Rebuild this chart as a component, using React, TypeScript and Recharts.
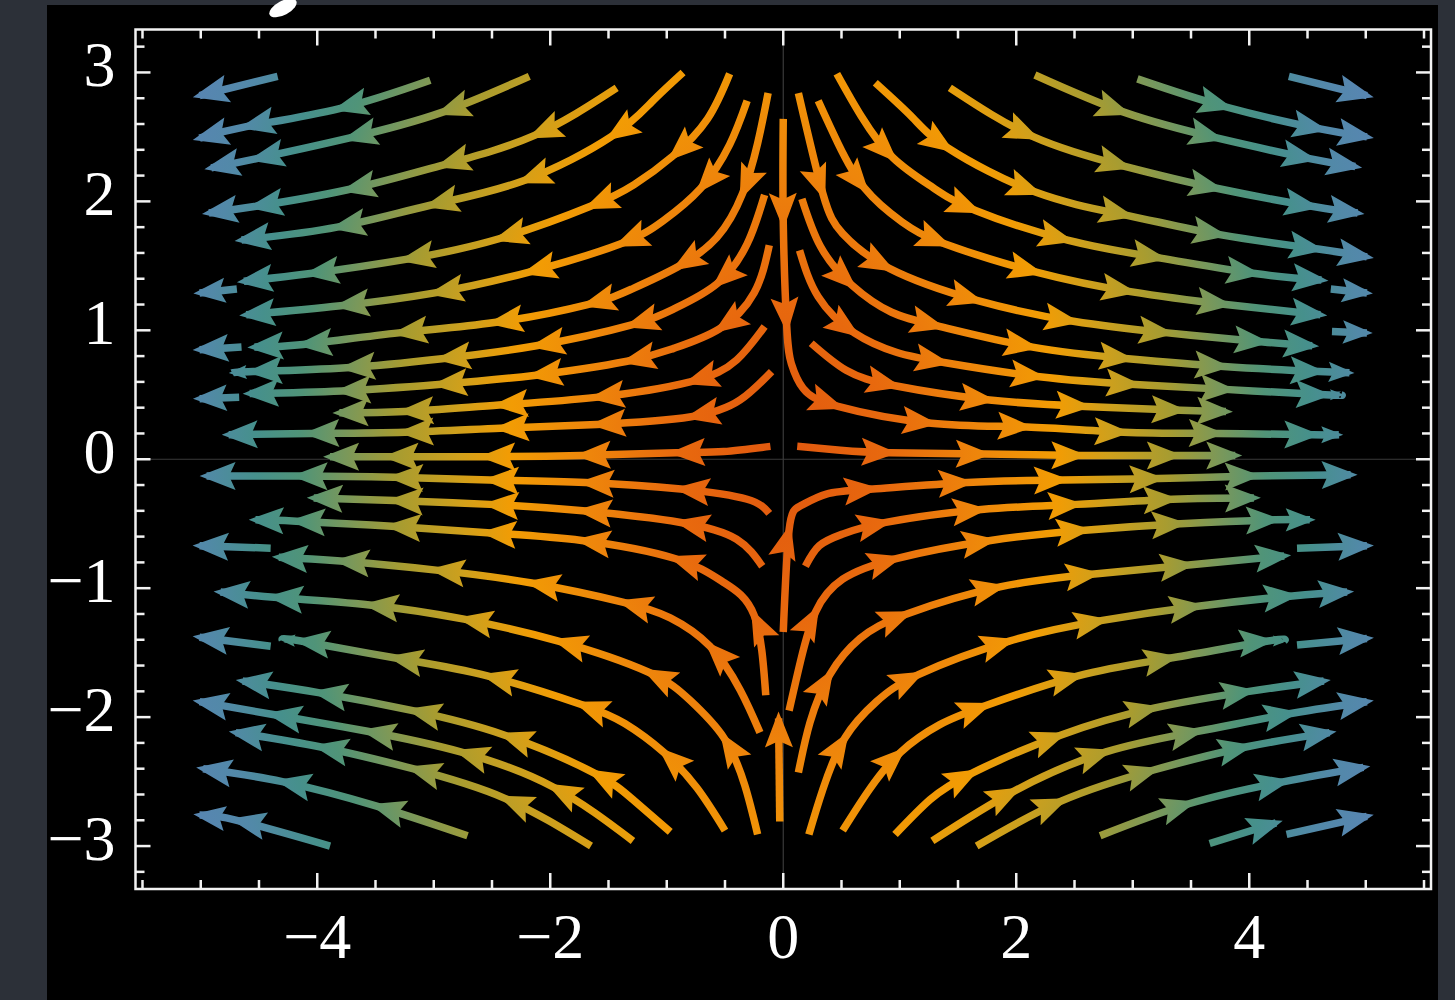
import React from 'react';
import { LineChart, Line, XAxis, YAxis, CartesianGrid, ReferenceArea } from 'recharts';

// a stream point: [x, y] is an arrow tip, [x, y, 0] is a plain point on the curve
type Pt = number[];

const X_DOMAIN = [-5.56, 5.56];
const Y_DOMAIN = [-3.333, 3.333];

const xTicks = [-5.5, -5, -4.5, -4, -3.5, -3, -2.5, -2, -1.5, -1, -0.5, 0, 0.5, 1, 1.5, 2, 2.5, 3, 3.5, 4, 4.5, 5, 5.5];
const xLabels = [-4, -2, 0, 2, 4];
const yTicks = [-3.2, -3, -2.8, -2.6, -2.4, -2.2, -2, -1.8, -1.6, -1.4, -1.2, -1, -0.8, -0.6, -0.4, -0.2, 0,
  0.2, 0.4, 0.6, 0.8, 1, 1.2, 1.4, 1.6, 1.8, 2, 2.2, 2.4, 2.6, 2.8, 3, 3.2];
const yLabels = [-3, -2, -1, 0, 1, 2, 3];

const topLeftStreams: Pt[][] = [
  [[-4.34, 2.97], [-5.01, 2.82]],
  [[-3.03, 2.94], [-3.81, 2.72], [-4.61, 2.58], [-5.01, 2.49]],
  [[-2.18, 2.97], [-2.93, 2.69], [-3.73, 2.49], [-4.53, 2.33], [-4.91, 2.26]],
  [[-1.43, 2.88], [-2.14, 2.51], [-2.93, 2.28], [-3.74, 2.09], [-4.54, 1.96], [-4.93, 1.91]],
  [[-0.86, 3.0], [-1.13, 2.77, 0], [-1.48, 2.5], [-2.23, 2.16], [-3.03, 1.97], [-3.83, 1.8], [-4.65, 1.7]],
  [[-0.46, 2.99], [-0.65, 2.64, 0], [-0.95, 2.35], [-1.28, 2.13, 0], [-1.66, 1.96], [-2.44, 1.71], [-3.24, 1.55], [-4.06, 1.44], [-4.63, 1.38]],
  [[-4.69, 1.32], [-5.01, 1.29]],
  [[-0.31, 2.78], [-0.46, 2.44, 0], [-0.71, 2.1], [-1.03, 1.85, 0], [-1.4, 1.67], [-2.19, 1.45], [-2.99, 1.29], [-3.8, 1.19], [-4.61, 1.12]],
  [[-0.13, 2.84], [-0.22, 2.45, 0], [-0.35, 2.06], [-0.57, 1.72, 0], [-0.91, 1.49], [-1.3, 1.32, 0], [-1.68, 1.2], [-2.48, 1.06], [-3.3, 0.98], [-4.12, 0.89], [-4.54, 0.87]],
  [[-4.65, 0.87], [-5.01, 0.85]],
  [[-0.16, 2.05], [-0.31, 1.67, 0], [-0.57, 1.36], [-0.93, 1.17, 0], [-1.31, 1.04], [-2.12, 0.88], [-2.93, 0.78], [-3.75, 0.71], [-4.55, 0.68], [-4.73, 0.67]],
  [[-0.12, 1.66], [-0.25, 1.29, 0], [-0.55, 1.01], [-0.94, 0.86, 0], [-1.34, 0.76], [-2.14, 0.65], [-2.96, 0.58], [-3.79, 0.53], [-4.58, 0.51]],
  [[-4.67, 0.48], [-5.01, 0.47]],
  [[-0.16, 1.03], [-0.4, 0.77, 0], [-0.8, 0.6], [-1.61, 0.48], [-2.44, 0.42], [-3.25, 0.37], [-3.81, 0.36]],
  [[-0.1, 0.68], [-0.37, 0.46, 0], [-0.79, 0.33], [-1.6, 0.27], [-2.43, 0.24], [-3.25, 0.21], [-4.06, 0.2], [-4.76, 0.19]],
  [[-0.11, 0.1], [-0.51, 0.06, 0], [-0.92, 0.05], [-1.73, 0.03], [-2.55, 0.02], [-3.38, 0.02], [-3.89, 0.02]],
];

const topRightStreams: Pt[][] = [
  [[0, 2.64], [0, 1.84], [0.03, 1.03], [0.07, 0.74, 0], [0.17, 0.55, 0], [0.47, 0.41], [1.27, 0.28], [2.09, 0.25], [2.92, 0.21], [3.73, 0.2], [4.55, 0.19], [4.77, 0.19]],
  [[4.34, 2.97], [5.01, 2.82]],
  [[3.04, 2.95], [3.81, 2.73], [4.62, 2.56], [5.01, 2.5]],
  [[2.16, 2.98], [2.93, 2.69], [3.73, 2.49], [4.53, 2.33], [4.91, 2.27]],
  [[1.43, 2.88], [2.15, 2.5], [2.94, 2.27], [3.73, 2.1], [4.55, 1.96], [4.93, 1.91]],
  [[0.79, 2.92], [1.11, 2.65, 0], [1.42, 2.41], [2.17, 2.07], [2.96, 1.89], [3.76, 1.74], [4.59, 1.63], [5.01, 1.57]],
  [[0.46, 2.99], [0.67, 2.66, 0], [0.94, 2.34], [1.28, 2.11, 0], [1.65, 1.93], [2.44, 1.7], [3.24, 1.56], [4.05, 1.44], [4.62, 1.39]],
  [[4.7, 1.32], [5.01, 1.29]],
  [[0.3, 2.78], [0.47, 2.45, 0], [0.7, 2.1], [1.02, 1.84, 0], [1.39, 1.67], [2.18, 1.45], [2.98, 1.3], [3.8, 1.2], [4.61, 1.12]],
  [[0.13, 2.84], [0.34, 2.06], [0.51, 1.75, 0], [0.91, 1.48], [1.67, 1.23], [2.49, 1.07], [3.3, 0.98], [4.12, 0.91], [4.54, 0.88]],
  [[4.71, 0.99], [5.01, 0.98]],
  [[0.16, 2.02], [0.32, 1.65, 0], [0.59, 1.35], [0.93, 1.14, 0], [1.34, 1.03], [2.14, 0.87], [2.96, 0.78], [3.78, 0.72], [4.6, 0.68], [4.86, 0.67]],
  [[0.14, 1.62], [0.3, 1.26, 0], [0.61, 0.98], [0.97, 0.83, 0], [1.38, 0.75], [2.2, 0.64], [3.02, 0.58], [3.83, 0.54], [4.65, 0.5], [4.79, 0.5]],
  [[0.24, 0.9], [0.54, 0.69, 0], [0.96, 0.57], [1.77, 0.46], [2.59, 0.41], [3.41, 0.38], [3.8, 0.37]],
  [[0.12, 0.1], [0.49, 0.07, 0], [0.92, 0.05], [1.73, 0.04], [2.55, 0.03], [3.37, 0.03], [3.88, 0.03]],
];

const bottomLeftStreams: Pt[][] = [
  [[-0.12, -0.42], [-0.31, -0.31, 0], [-0.88, -0.23], [-1.7, -0.18], [-2.52, -0.16], [-3.34, -0.14], [-4.16, -0.13], [-4.95, -0.13]],
  [[-0.18, -0.83], [-0.4, -0.62, 0], [-0.88, -0.49], [-1.72, -0.4], [-2.52, -0.35], [-3.34, -0.32], [-4.03, -0.3]],
  [[-0.15, -1.83], [-0.25, -1.21], [-0.52, -0.95, 0], [-0.93, -0.77], [-1.73, -0.63], [-2.54, -0.57], [-3.36, -0.52], [-4.18, -0.48], [-4.53, -0.47]],
  [[-4.4, -0.69], [-5.01, -0.67]],
  [[-0.2, -2.12], [-0.37, -1.79, 0], [-0.63, -1.45], [-0.97, -1.23, 0], [-1.37, -1.11], [-2.16, -0.96], [-2.98, -0.86], [-3.8, -0.79], [-4.33, -0.76]],
  [[-0.22, -2.91], [-0.33, -2.53, 0], [-0.51, -2.16], [-0.8, -1.87, 0], [-1.16, -1.65], [-1.93, -1.41], [-2.74, -1.24], [-3.55, -1.13], [-4.37, -1.07], [-4.83, -1.03]],
  [[-0.5, -2.88], [-0.74, -2.55, 0], [-1.03, -2.27], [-1.36, -2.05, 0], [-1.74, -1.9], [-2.54, -1.68], [-3.34, -1.54], [-4.14, -1.41], [-4.3, -1.4]],
  [[-4.4, -1.45], [-5.01, -1.38]],
  [[-0.97, -2.89], [-1.29, -2.64, 0], [-1.63, -2.43], [-2.39, -2.14], [-3.18, -1.95], [-3.99, -1.81], [-4.64, -1.72]],
  [[-1.29, -2.96], [-1.98, -2.54], [-2.77, -2.27], [-3.57, -2.11], [-4.38, -1.98], [-5.01, -1.88]],
  [[-1.65, -3.0], [-2.39, -2.63], [-3.18, -2.4], [-3.98, -2.23], [-4.7, -2.12]],
  [[-2.71, -2.92], [-3.49, -2.69], [-4.3, -2.5], [-4.98, -2.4]],
  [[-3.89, -3.0], [-4.69, -2.8], [-5.01, -2.76]],
  [[-0.03, -2.81], [-0.04, -2.01]],
];

const bottomRightStreams: Pt[][] = [
  [[0, -1.34], [0.05, -0.55], [0.15, -0.36, 0], [0.37, -0.27, 0], [0.77, -0.23], [1.58, -0.18], [2.4, -0.16], [3.22, -0.15], [4.04, -0.13], [4.87, -0.12]],
  [[0.19, -0.83], [0.31, -0.67, 0], [0.51, -0.58, 0], [0.88, -0.49], [1.7, -0.39], [2.52, -0.35], [3.34, -0.31], [4.04, -0.3]],
  [[0.05, -1.95], [0.15, -1.56, 0], [0.28, -1.18], [0.51, -0.93, 0], [0.97, -0.77], [1.78, -0.63], [2.59, -0.55], [3.41, -0.5], [4.22, -0.47], [4.52, -0.47]],
  [[0.13, -2.43], [0.23, -2.04, 0], [0.4, -1.67], [0.66, -1.39, 0], [1.06, -1.2], [1.86, -0.99], [2.67, -0.89], [3.48, -0.82], [4.3, -0.75]],
  [[4.41, -0.69], [5.01, -0.67]],
  [[0.22, -2.91], [0.34, -2.56, 0], [0.53, -2.16], [0.8, -1.88, 0], [1.16, -1.67], [1.94, -1.41], [2.74, -1.25], [3.56, -1.14], [4.37, -1.06], [4.84, -1.03]],
  [[0.51, -2.88], [0.74, -2.56, 0], [1.01, -2.27], [1.34, -2.06, 0], [1.74, -1.91], [2.53, -1.68], [3.34, -1.54], [4.16, -1.41], [4.3, -1.41]],
  [[4.41, -1.44], [5.01, -1.39]],
  [[0.96, -2.91], [1.26, -2.64, 0], [1.63, -2.43], [2.38, -2.14], [3.18, -1.93], [4.0, -1.8], [4.64, -1.72]],
  [[1.28, -2.96], [1.99, -2.57], [2.77, -2.27], [3.56, -2.11], [4.37, -1.97], [5.01, -1.88]],
  [[1.66, -3.0], [2.39, -2.65], [3.18, -2.41], [3.98, -2.23], [4.69, -2.12]],
  [[2.72, -2.92], [3.49, -2.67], [4.3, -2.5], [4.98, -2.39]],
  [[3.66, -2.98], [4.23, -2.82]],
  [[4.32, -2.91], [5.01, -2.77]],
];

const streams = [...topLeftStreams, ...topRightStreams, ...bottomLeftStreams, ...bottomRightStreams];

// colour by distance from the saddle (orange in the middle, blue at the edges)
const speedStops: [number, string][] = [
  [0, '#e0570f'], [0.16, '#e8690e'], [0.3, '#ee860b'], [0.42, '#f29c04'], [0.5, '#cfa01c'],
  [0.59, '#a89c30'], [0.67, '#7a985a'], [0.74, '#509478'], [0.81, '#46908c'], [0.89, '#5289a8'], [1, '#5a84b6'],
];

const W = 1455;
const H = 1000;
const PLOT = { top: 29.5, right: 24, bottom: 111, left: 135.5 };
const PW = W - PLOT.left - PLOT.right;
const PH = H - PLOT.top - PLOT.bottom;
const KX = PW / (X_DOMAIN[1] - X_DOMAIN[0]);
const KY = PH / (Y_DOMAIN[1] - Y_DOMAIN[0]);
const OX = PLOT.left - X_DOMAIN[0] * KX;
const OY = PLOT.top + Y_DOMAIN[1] * KY;

const FRAME = '#f2f2f2';
const FONT = 'Liberation Serif, serif';

const fmt = (v: number) => (v < 0 ? '\u2212' + Math.abs(v) : String(v));

const XTick = ({ x, y, payload }: any) => {
  const major = xLabels.includes(payload.value);
  const len = major ? 16 : 9;
  return (
    <g>
      <line x1={x} x2={x} y1={y} y2={y - len} stroke={FRAME} strokeWidth={2.5} />
      <line x1={x} x2={x} y1={y - PH} y2={y - PH + len} stroke={FRAME} strokeWidth={2.5} />
      {major && (
        <text x={x} y={y + 69} textAnchor="middle" fill="#fff" fontSize={64} fontFamily={FONT}>
          {fmt(payload.value)}
        </text>
      )}
    </g>
  );
};

const YTick = ({ x, y, payload }: any) => {
  const major = yLabels.includes(payload.value);
  const len = major ? 15 : 9;
  return (
    <g>
      <line x1={x} x2={x + len} y1={y} y2={y} stroke={FRAME} strokeWidth={2.5} />
      <line x1={x + PW} x2={x + PW - len} y1={y} y2={y} stroke={FRAME} strokeWidth={2.5} />
      {major && (
        <text x={x - 20} y={y + 14} textAnchor="end" fill="#fff" fontSize={64} fontFamily={FONT}>
          {fmt(payload.value)}
        </text>
      )}
    </g>
  );
};

const makeArrow = (line: Pt[]) => (props: any) => {
  const { index, cx, cy } = props;
  const key = `a${index}`;
  if (!index || line[index].length > 2 || cx == null || cy == null) return <g key={key} />;
  const pts: number[][] = props.points && props.points.length === line.length
    ? props.points.map((p: any) => [p.x, p.y])
    : line.map((p) => [OX + p[0] * KX, OY - p[1] * KY]);
  const [px, py] = pts[index - 1];
  let ux = cx - px;
  let uy = cy - py;
  const d1 = Math.hypot(ux, uy) || 1;
  ux /= d1;
  uy /= d1;
  if (index + 1 < pts.length) {
    const [nx, ny] = pts[index + 1];
    const d2 = Math.hypot(nx - cx, ny - cy) || 1;
    ux += (nx - cx) / d2;
    uy += (ny - cy) / d2;
    const n = Math.hypot(ux, uy) || 1;
    ux /= n;
    uy /= n;
  }
  let k = index - 1;
  while (k > 0 && line[k].length > 2) k--;
  const chord = Math.hypot(cx - pts[k][0], cy - pts[k][1]);
  const s = Math.min(1, chord / 42);
  const L = 36 * s;
  const hw = 14 * s;
  const notch = 6.5 * s;
  // push the point a little past the data tip so the line end stays inside the head
  const tx = cx + ux * 7 * s;
  const ty = cy + uy * 7 * s;
  const bx = tx - ux * L;
  const by = ty - uy * L;
  const poly = [
    [tx, ty],
    [bx - uy * hw, by + ux * hw],
    [tx - ux * (L - notch), ty - uy * (L - notch)],
    [bx + uy * hw, by - ux * hw],
  ].map((p) => p.join(',')).join(' ');
  return <polygon key={key} points={poly} fill="url(#speed)" />;
};

const StreamPlot = () => (
  <LineChart width={W} height={H} margin={{ top: PLOT.top, right: PLOT.right, bottom: 0, left: 0 }}>
    <defs>
      <radialGradient
        id="speed"
        gradientUnits="userSpaceOnUse"
        cx={0}
        cy={0}
        r={5.6 * KX}
        gradientTransform={`translate(${OX} ${OY}) scale(1 ${(1.4 * KY) / KX})`}
      >
        {speedStops.map(([o, c]) => (
          <stop key={o} offset={o} stopColor={c} />
        ))}
      </radialGradient>
    </defs>
    <CartesianGrid horizontalValues={[0]} verticalValues={[0]} stroke="#3a3a3a" strokeWidth={1.2} />
    <XAxis
      type="number"
      dataKey="x"
      domain={X_DOMAIN}
      allowDataOverflow
      ticks={xTicks}
      interval={0}
      tickSize={0}
      tickMargin={0}
      axisLine={false}
      tickLine={false}
      height={PLOT.bottom}
      tick={(p: any) => <XTick {...p} />}
    />
    <YAxis
      type="number"
      dataKey="y"
      domain={Y_DOMAIN}
      allowDataOverflow
      ticks={yTicks}
      interval={0}
      tickSize={0}
      tickMargin={0}
      axisLine={false}
      tickLine={false}
      width={PLOT.left}
      tick={(p: any) => <YTick {...p} />}
    />
    {streams.map((line, i) => (
      <Line
        key={i}
        data={line.map((p) => ({ x: p[0], y: p[1] }))}
        dataKey="y"
        type="natural"
        stroke="url(#speed)"
        strokeWidth={7.5}
        dot={makeArrow(line)}
        activeDot={false}
        legendType="none"
        isAnimationActive={false}
      />
    ))}
    <ReferenceArea
      x1={X_DOMAIN[0]}
      x2={X_DOMAIN[1]}
      y1={Y_DOMAIN[0]}
      y2={Y_DOMAIN[1]}
      ifOverflow="visible"
      fill="none"
      stroke={FRAME}
      strokeWidth={2.5}
    />
  </LineChart>
);

export default function App() {
  return (
    <div style={{ position: 'absolute', left: 0, top: 0, width: W, height: H, background: '#2c3038', overflow: 'hidden' }}>
      <div style={{ position: 'absolute', left: 47, top: 5, width: 1391, height: 995, background: '#000' }} />
      <div
        style={{
          position: 'absolute', left: 268, top: 1, width: 30, height: 14, background: '#fff',
          borderRadius: '50%', transform: 'rotate(-28deg)',
        }}
      />
      <div style={{ position: 'absolute', left: 0, top: 0 }}>
        <StreamPlot />
      </div>
    </div>
  );
}
